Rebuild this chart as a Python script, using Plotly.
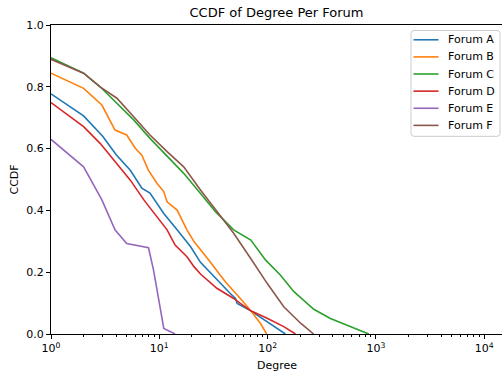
import plotly.graph_objects as go

# ---- data ----
forum_names = ["Forum A", "Forum B", "Forum C", "Forum D", "Forum E", "Forum F"]

a_deg = [1, 2, 3, 4, 5.4, 6.9, 8.2, 9, 11, 14.6, 19.4, 24, 34, 45, 50.5, 52.4, 70, 99, 146]
a_val = [0.777, 0.706, 0.64, 0.58, 0.53, 0.472, 0.456, 0.434, 0.39, 0.337, 0.283, 0.232,
         0.175, 0.132, 0.115, 0.099, 0.075, 0.04, 0.0]

b_deg = [1, 2, 2.95, 3.9, 5.0, 6.0, 6.9, 7.9, 9.5, 11, 11.8, 14.6, 18, 20.9, 28.7, 40.7,
         56, 70, 86, 98]
b_val = [0.844, 0.795, 0.741, 0.66, 0.644, 0.601, 0.579, 0.531, 0.488, 0.461, 0.428, 0.401,
         0.337, 0.299, 0.239, 0.169, 0.115, 0.075, 0.034, 0.0]

c_deg = [1, 2, 2.84, 4.06, 5.8, 8.2, 11.8, 16.8, 24, 33, 48.6, 70, 96, 131, 175, 267, 380,
         545, 860]
c_val = [0.894, 0.844, 0.80, 0.746, 0.693, 0.633, 0.574, 0.52, 0.455, 0.396, 0.337, 0.304,
         0.239, 0.191, 0.137, 0.08, 0.05, 0.029, 0.0]

d_deg = [1, 2, 2.84, 4.06, 5.4, 7.2, 9.5, 11.8, 14, 18, 20.9, 24, 34, 48.6, 56, 70, 99,
         141, 181]
d_val = [0.749, 0.671, 0.617, 0.552, 0.498, 0.434, 0.38, 0.337, 0.288, 0.25, 0.218, 0.194,
         0.148, 0.115, 0.099, 0.075, 0.051, 0.024, 0.0]

e_deg = [1, 2, 2.95, 3.9, 5.0, 7.95, 8.85, 11, 14]
e_val = [0.63, 0.541, 0.434, 0.337, 0.293, 0.279, 0.207, 0.018, 0.0]

f_deg = [1, 2, 2.84, 4.06, 5.8, 8.2, 11.8, 16.8, 24, 34, 48.6, 69.6, 99, 141, 203, 266]
f_val = [0.889, 0.844, 0.80, 0.763, 0.703, 0.644, 0.59, 0.541, 0.466, 0.398, 0.326, 0.245,
         0.164, 0.088, 0.034, 0.0]

series_deg = [a_deg, b_deg, c_deg, d_deg, e_deg, f_deg]
series_val = [a_val, b_val, c_val, d_val, e_val, f_val]
colors = ["#1f77b4", "#ff7f0e", "#2ca02c", "#d62728", "#9467bd", "#8c564b"]

x_tickvals = [1, 10, 100, 1000, 10000]
x_ticktext = ["10<sup>0</sup>", "10<sup>1</sup>", "10<sup>2</sup>", "10<sup>3</sup>", "10<sup>4</sup>"]
x_minor = [m * 10 ** k for k in range(0, 5) for m in range(2, 10)]
y_tickvals = [0.0, 0.2, 0.4, 0.6, 0.8, 1.0]

fig = go.Figure()
for name, xs, ys, col in zip(forum_names, series_deg, series_val, colors):
    fig.add_trace(go.Scatter(x=xs, y=ys, mode="lines", name=name, showlegend=False,
                             line=dict(color=col, width=1.6)))

font = "DejaVu Sans, Liberation Sans, sans-serif"
W, H = 502, 376
L, T, B = 51, 24.5, 42
PW, PH = W - L, H - T - B


def px_x(px):
    return (px - L) / PW


def px_y(py):
    return (H - B - py) / PH


# ---- matplotlib-style legend box (drawn as shapes + text) ----
bx0, bx1, by0, by1, r = 411, 500, 30, 136, 3
box_path = (
    f"M {px_x(bx0 + r)} {px_y(by0)} L {px_x(bx1 - r)} {px_y(by0)} "
    f"Q {px_x(bx1)} {px_y(by0)} {px_x(bx1)} {px_y(by0 + r)} "
    f"L {px_x(bx1)} {px_y(by1 - r)} "
    f"Q {px_x(bx1)} {px_y(by1)} {px_x(bx1 - r)} {px_y(by1)} "
    f"L {px_x(bx0 + r)} {px_y(by1)} "
    f"Q {px_x(bx0)} {px_y(by1)} {px_x(bx0)} {px_y(by1 - r)} "
    f"L {px_x(bx0)} {px_y(by0 + r)} "
    f"Q {px_x(bx0)} {px_y(by0)} {px_x(bx0 + r)} {px_y(by0)} Z"
)
shapes = [dict(type="path", xref="paper", yref="paper", path=box_path,
               fillcolor="rgba(255,255,255,0.8)", line=dict(color="#cccccc", width=1))]
annotations = []
for i, (name, col) in enumerate(zip(forum_names, colors)):
    yy = 39.3 + 17.15 * i
    shapes.append(dict(type="line", xref="paper", yref="paper",
                       x0=px_x(413.5), x1=px_x(438.5), y0=px_y(yy), y1=px_y(yy),
                       line=dict(color=col, width=1.6)))
    annotations.append(dict(text=name, xref="paper", yref="paper", x=px_x(446),
                            y=px_y(yy), xanchor="left", yanchor="middle",
                            showarrow=False, font=dict(size=11)))

annotations += [
    dict(text="Degree", xref="paper", yref="paper", x=0.5, y=px_y(366),
         xanchor="center", yanchor="middle", showarrow=False, font=dict(size=11)),
    dict(text="CCDF", xref="paper", yref="paper", x=px_x(14), y=0.5,
         xanchor="center", yanchor="middle", textangle=-90, showarrow=False,
         font=dict(size=11)),
]

fig.update_layout(
    width=W, height=H,
    margin=dict(l=L, r=0, t=T, b=B, autoexpand=False),
    paper_bgcolor="white", plot_bgcolor="white",
    font=dict(family=font, size=11, color="black"),
    title=dict(text="CCDF of Degree Per Forum", x=0.5, xref="paper", xanchor="center",
               y=1 - 12.5 / H, yanchor="middle", yref="container",
               font=dict(size=13, color="black")),
    showlegend=False,
    xaxis=dict(type="log", range=[0, PW / 108.3], showgrid=False, zeroline=False,
               automargin=False,
               showline=True, linecolor="black", linewidth=1, mirror=True,
               ticks="outside", ticklen=4, tickcolor="black",
               tickvals=x_tickvals, ticktext=x_ticktext,
               minor=dict(ticks="outside", ticklen=2, tickcolor="black", tickvals=x_minor,
                          showgrid=False)),
    yaxis=dict(range=[0, 1], showgrid=False, zeroline=False, automargin=False,
               showline=True, linecolor="black", linewidth=1, mirror=False,
               ticks="outside", ticklen=4, tickcolor="black",
               tickvals=y_tickvals, tickformat=".1f"),
    shapes=shapes,
    annotations=annotations,
)

fig.write_html("out.html", config={"displayModeBar": False},
               post_script="document.body.style.margin='0';document.body.style.overflow='hidden';")
